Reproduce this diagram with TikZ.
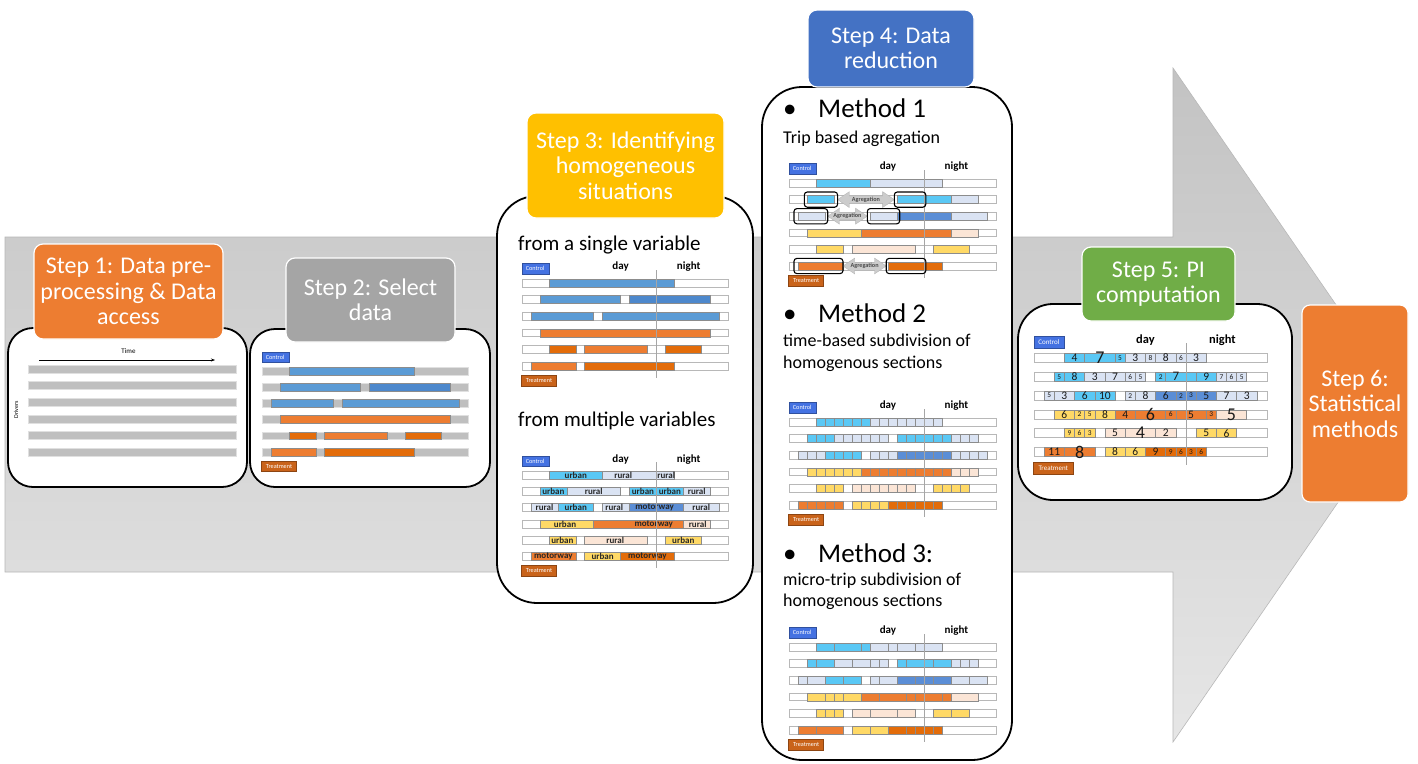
\documentclass[tikz,border=0pt]{standalone}
\usepackage{fontspec}
\setmainfont{Carlito}
\usetikzlibrary{arrows.meta}
\definecolor{arrT}{HTML}{C3C3C3}
\definecolor{arrB}{HTML}{E6E6E6}
\definecolor{tOr}{HTML}{ED7D31}
\definecolor{tGr}{HTML}{A5A5A5}
\definecolor{tYe}{HTML}{FFC000}
\definecolor{tBl}{HTML}{4472C4}
\definecolor{tGn}{HTML}{70AD47}
\definecolor{bb}{HTML}{5B9BD5}
\definecolor{bbd}{HTML}{4D88CC}
\definecolor{cy}{HTML}{5AC8F5}
\definecolor{lb}{HTML}{DAE3F3}
\definecolor{mb}{HTML}{5B8ED6}
\definecolor{ye}{HTML}{FFD966}
\definecolor{orr}{HTML}{ED7D31}
\definecolor{pe}{HTML}{FBE5D6}
\definecolor{dor}{HTML}{E36C0A}
\definecolor{ctrl}{HTML}{4472E2}
\definecolor{treat}{HTML}{C9631A}
\definecolor{barg}{HTML}{BFBFBF}
\newcount\nncnt
\newcommand{\nname}{\global\advance\nncnt by 1\relax}
\tikzset{
 panel/.style={draw=black, line width=1.8pt, fill=white, rounded corners=#1, inner sep=0},
 ttl/.style={draw=white, line width=1.2pt, rounded corners=9pt, text=white, align=center, inner sep=0, font=\fontsize{24}{25.5}\selectfont},
 segb/.style={draw=black!45, line width=0.5pt},
 bgw/.style={draw=black!28, fill=white, line width=0.6pt},
 bgg/.style={draw=black!12, fill=barg, line width=0.6pt},
 chs/.style={},
 ctlbox/.style={chs, fill=ctrl, draw=ctrl!70!black, line width=0.3pt, text=white, minimum width=27pt, minimum height=10.5pt, inner sep=0, font=\fontsize{6.2}{7}\selectfont},
 trtbox/.style={chs, fill=treat, draw=treat!70!black, line width=0.3pt, text=white, minimum width=35pt, minimum height=10.5pt, inner sep=0, font=\fontsize{6.2}{7}\selectfont},
 dn/.style={chs, font=\bfseries\fontsize{11}{12}\selectfont, inner sep=0},
 lbl/.style={font=\bfseries\fontsize{9}{10}\selectfont, inner sep=0, text=black!85},
 num/.style={inner sep=0, text=black!90},
 divl/.style={draw=black!35, line width=0.6pt},
 aggbox/.style={draw=black, line width=1.1pt, rounded corners=3pt},
 aggfill/.style={fill=black!20, draw=black!30, line width=0.3pt},
 agglbl/.style={font=\bfseries\fontsize{6.2}{6.5}\selectfont, text=black!70, inner sep=0},
 mtxt/.style={anchor=base west, inner sep=0, font=\fontsize{27}{30}\selectfont},
 stxt/.style={anchor=base west, inner sep=0, font=\fontsize{18}{22}\selectfont},
}
\newcommand{\seg}[4]{\draw[segb,fill=#4] (#2,#1-0.24) rectangle (#3,#1+0.24);}
\newcommand{\segs}[3]{\foreach \xa/\xb in {#3}{\seg{#1}{\xa}{\xb}{#2}}}
\newcommand{\lseg}[6]{\seg{#1}{#2}{#3}{#4}\nname\node[lbl] (n\the\nncnt) at (#6,#1) {#5};}
\newcommand{\cells}[4]{\seg{#1}{#2}{#3}{#4}\foreach \ci in {#2,...,#3}{\draw[segb] (\ci,#1-0.24) -- (\ci,#1+0.24);}}
\newcommand{\nsegs}[3]{\foreach \xa/\xb/\nv/\sz in {#3}{\seg{#1}{\xa}{\xb}{#2}\nname\node[num,font=\fontsize{\sz}{\sz}\selectfont] (n\the\nncnt) at ({(\xa+\xb)/2},#1) {\nv};}}
\newcommand{\bgrows}[1]{\foreach \r in {0,...,5}{\draw[#1] (0,\r-0.24) rectangle (23,\r+0.24);}}
\newcommand{\ctl}{\nname\node[ctlbox] (n\the\nncnt) at (1.47,-0.86) {Control};\nname\node[trtbox] (n\the\nncnt) at (1.9,5.88) {Treatment};}
\newcommand{\dnl}{\nname\node[dn] (n\the\nncnt) at (11,-0.97) {day};\nname\node[dn] (n\the\nncnt) at (18.6,-0.97) {night};}
\newcommand{\divd}{\draw[divl] (15,-0.78) -- (15,5.7);}
\newcommand{\aggar}[3]{\draw[aggfill] (#2,#1) -- (#2+1.3,#1-0.48) -- (#2+1.3,#1-0.22) -- (#3-1.3,#1-0.22) -- (#3-1.3,#1-0.48) -- (#3,#1) -- (#3-1.3,#1+0.48) -- (#3-1.3,#1+0.22) -- (#2+1.3,#1+0.22) -- (#2+1.3,#1+0.48) -- cycle;
 \nname\node[agglbl] (n\the\nncnt) at ({(#2+#3)/2},#1) {Agregation};}
\newcommand{\aggbx}[3]{\draw[aggbox] (#2,#1-0.46) rectangle (#3,#1+0.46);}
\newcommand{\singlesegs}{%
 \seg{0}{3}{17}{bb}
 \seg{1}{2}{11}{bb}\seg{1}{12}{21}{bbd}
 \seg{2}{1}{8}{bb}\seg{2}{9}{22}{bb}
 \seg{3}{2}{21}{orr}
 \seg{4}{3}{6}{dor}\seg{4}{7}{14}{orr}\seg{4}{16}{20}{dor}
 \seg{5}{1}{6}{orr}\seg{5}{7}{17}{dor}}
\begin{document}
\begin{tikzpicture}[x=1pt,y=-1pt]
\useasboundingbox (0,0) rectangle (1418,763);
\fill[white] (0,0) rectangle (1418,763);
% big arrow
\shadedraw[top color=arrT, bottom color=arrB, draw=black!28, line width=0.6pt] (5,237) -- (1173,237) -- (1173,68) -- (1405,405) -- (1173,742) -- (1173,572) -- (5,572) -- cycle;
% panels
\node[panel=25pt, minimum width=239pt, minimum height=159pt] (p1) at (127.5,407.5) {};
\node[panel=25pt, minimum width=240pt, minimum height=158pt] (p2) at (370,408) {};
\node[panel=40pt, minimum width=256pt, minimum height=407pt] (p3) at (625,399.5) {};
\node[panel=40pt, minimum width=250pt, minimum height=673pt] (p4) at (887,423.5) {};
\node[panel=35pt, minimum width=274pt, minimum height=196pt] (p5) at (1155,402) {};
% titles
\node[ttl, fill=tOr, minimum width=189pt, minimum height=95pt] (t1) at (128.5,291.5) {Step 1: Data pre-\\processing \& Data\\access};
\node[ttl, fill=tGr, minimum width=169pt, minimum height=84pt] (t2) at (370.5,300) {Step 2: Select\\data};
\node[ttl, fill=tYe, minimum width=197pt, minimum height=105pt] (t3) at (625.5,165.5) {Step 3: Identifying\\homogeneous\\situations};
\node[ttl, fill=tBl, minimum width=166pt, minimum height=77pt] (t4) at (891,48.5) {Step 4: Data\\reduction};
\node[ttl, fill=tGn, minimum width=153pt, minimum height=74pt] (t5) at (1158.5,284) {Step 5: PI\\computation};
\node[ttl, fill=tOr, minimum width=106pt, minimum height=197pt, rounded corners=8pt] (t6) at (1355,403.5) {Step 6:\\Statistical\\methods};
% step 1 content
\coordinate (tA) at (39,360); \coordinate (tB) at (215,360);
\draw[-{Stealth[length=4pt,width=3pt]}, line width=0.5pt] (tA) -- (tB);
\node[font=\fontsize{7}{8}\selectfont, inner sep=0] (time) at (128.5,351) {Time};
\node[font=\fontsize{6}{7}\selectfont, inner sep=0, rotate=90] (drv) at (16,410) {Drivers};
\foreach \i in {0,...,5}{\draw[bgg] (28,{369+\i*16.65-4}) rectangle (236,{369+\i*16.65+4});}
% step 2 content
\begin{scope}[shift={(262,371)}, x=8.96pt, y=-16.2pt]
\bgrows{bgg}\singlesegs\ctl
\end{scope}
% step 3 texts
\node[anchor=base west, inner sep=0, font=\fontsize{21}{24}\selectfont] (s3a) at (518,250) {from a single variable};
\node[anchor=base west, inner sep=0, font=\fontsize{21}{24}\selectfont] (s3b) at (518,426) {from multiple variables};
\begin{scope}[shift={(522,283)}, x=8.96pt, y=-16.6pt]
\bgrows{bgw}\singlesegs\ctl\dnl\divd
\end{scope}
\begin{scope}[shift={(522,475)}, x=8.96pt, y=-16.3pt]
\bgrows{bgw}
\lseg{0}{3}{9}{cy}{urban}{6}\lseg{0}{9}{15}{lb}{rural}{11.3}\lseg{0}{15}{17}{lb}{rural}{16.1}
\lseg{1}{2}{5}{cy}{urban}{3.5}\lseg{1}{5}{11}{lb}{rural}{8}\lseg{1}{12}{15}{cy}{urban}{13.5}\lseg{1}{15}{18}{cy}{urban}{16.5}\lseg{1}{18}{21}{lb}{rural}{19.5}
\lseg{2}{1}{4}{lb}{rural}{2.5}\lseg{2}{4}{8}{cy}{urban}{6}\lseg{2}{9}{12}{lb}{rural}{10.3}\lseg{2}{12}{18}{mb}{motorway}{14.8}\lseg{2}{18}{22}{lb}{rural}{20}
\lseg{3}{2}{8}{ye}{urban}{4.8}\lseg{3}{8}{18}{orr}{motorway}{14.7}\lseg{3}{18}{21}{pe}{rural}{19.6}
\lseg{4}{3}{6}{ye}{urban}{4.5}\lseg{4}{7}{14}{pe}{rural}{10.4}\lseg{4}{16}{20}{ye}{urban}{18}
\lseg{5}{1}{6}{orr}{motorway}{3.5}\lseg{5}{7}{11}{ye}{urban}{9}\lseg{5}{11}{17}{dor}{motorway}{14}
\ctl\dnl\divd
\end{scope}
% step 4 texts
\node[mtxt] (b1) at (783,117) {•};\node[mtxt] (m1) at (818,117) {Method 1};
\node[stxt] (m1t) at (783,143) {Trip based agregation};
\node[mtxt] (b2) at (783,322) {•};\node[mtxt] (m2) at (818,322) {Method 2};
\node[stxt] (m2t) at (783,346) {time-based subdivision of};
\node[stxt] (m2u) at (783,368) {homogenous sections};
\node[mtxt] (b3) at (783,562) {•};\node[mtxt] (m3) at (818,562) {Method 3:};
\node[stxt] (m3t) at (783,585) {micro-trip subdivision of};
\node[stxt] (m3u) at (783,606) {homogenous sections};
% method 1
\begin{scope}[shift={(789,183)}, x=9pt, y=-16.6pt]
\bgrows{bgw}
\seg{0}{3}{9}{cy}\seg{0}{9}{17}{lb}
\seg{1}{2}{5}{cy}\seg{1}{12}{18}{cy}\seg{1}{18}{21}{lb}
\seg{2}{1}{4}{lb}\seg{2}{9}{12}{lb}\seg{2}{12}{18}{mb}\seg{2}{18}{22}{lb}
\seg{3}{2}{8}{ye}\seg{3}{8}{18}{orr}\seg{3}{18}{21}{pe}
\seg{4}{3}{6}{ye}\seg{4}{7}{14}{pe}\seg{4}{16}{20}{ye}
\seg{5}{1}{6}{orr}\seg{5}{11}{17}{dor}
\ctl\dnl\divd
\aggar{1}{5.4}{11.7}\aggbx{1}{1.7}{5.4}\aggbx{1}{11.7}{15.2}
\aggar{2}{4.3}{8.7}\aggbx{2}{0.55}{4.3}\aggbx{2}{8.7}{12.3}
\aggar{5}{6}{10.8}\aggbx{5}{0.55}{6}\aggbx{5}{10.8}{15.2}
\end{scope}
% method 2
\begin{scope}[shift={(789,422)}, x=9pt, y=-16.6pt]
\bgrows{bgw}
\cells{0}{3}{9}{cy}\cells{0}{9}{17}{lb}
\cells{1}{2}{5}{cy}\cells{1}{5}{11}{lb}\cells{1}{12}{18}{cy}\cells{1}{18}{21}{lb}
\cells{2}{1}{4}{lb}\cells{2}{4}{8}{cy}\cells{2}{9}{12}{lb}\cells{2}{12}{18}{mb}\cells{2}{18}{22}{lb}
\cells{3}{2}{8}{ye}\cells{3}{8}{18}{orr}\cells{3}{18}{21}{pe}
\cells{4}{3}{6}{ye}\cells{4}{7}{14}{pe}\cells{4}{16}{20}{ye}
\cells{5}{1}{6}{orr}\cells{5}{7}{11}{ye}\cells{5}{11}{17}{dor}
\ctl\dnl\divd
\end{scope}
% method 3
\begin{scope}[shift={(789,647)}, x=9pt, y=-16.6pt]
\bgrows{bgw}
\segs{0}{cy}{3/5,5/8,8/9}\segs{0}{lb}{9/11,11/12,12/14,14/15,15/17}
\segs{1}{cy}{2/3,3/5}\segs{1}{lb}{5/7,7/9,9/10,10/11}\segs{1}{cy}{12/13,13/15,15/16,16/18}\segs{1}{lb}{18/19,19/20,20/21}
\segs{2}{lb}{1/2,2/4}\segs{2}{cy}{4/6,6/8}\segs{2}{lb}{9/10,10/12}\segs{2}{mb}{12/14,14/15,15/16,16/18}\segs{2}{lb}{18/20,20/22}
\segs{3}{ye}{2/4,4/5,5/6,6/8}\segs{3}{orr}{8/10,10/13,13/14,14/17,17/18}\segs{3}{pe}{18/21}
\segs{4}{ye}{3/4,4/5,5/6}\segs{4}{pe}{7/9,9/12,12/14}\segs{4}{ye}{16/18,18/20}
\segs{5}{orr}{1/3,3/6}\segs{5}{ye}{7/9,9/11}\segs{5}{dor}{11/13,13/14,14/15,15/16,16/17}
\ctl\dnl\divd
\end{scope}
% step 5
\begin{scope}[shift={(1034,358)}, x=10.13pt, y=-18.8pt, chs/.style={scale=1.13}]
\bgrows{bgw}
\nsegs{0}{cy}{3/5/4/11.5,5/8/7/18,8/9/5/7.4}\nsegs{0}{lb}{9/11/3/11.5,11/12/8/7.4,12/14/8/11.5,14/15/6/7.4,15/17/3/11.5}
\nsegs{1}{cy}{2/3/5/7.4,3/5/8/11.5}\nsegs{1}{lb}{5/7/3/11.5,7/9/7/11.5,9/10/6/7.4,10/11/5/7.4}\nsegs{1}{cy}{12/13/2/7.4,13/15/7/13}\seg{1}{15}{16}{cy}\nsegs{1}{cy}{16/18/9/11.5}\nsegs{1}{lb}{18/19/7/7.4,19/20/6/7.4,20/21/5/7.4}
\nsegs{2}{lb}{1/2/5/7.4,2/4/3/11.5}\nsegs{2}{cy}{4/6/6/11.5,6/8/10/11.5}\nsegs{2}{lb}{9/10/2/7.4,10/12/8/11.5}\nsegs{2}{mb}{12/14/6/11.5,14/15/2/7.4,15/16/3/7.4,16/18/5/11.5}\nsegs{2}{lb}{18/20/7/11.5,20/22/3/11.5}
\nsegs{3}{ye}{2/4/6/11.5,4/5/2/7.4,5/6/5/7.4,6/8/8/11.5}\nsegs{3}{orr}{8/10/4/11.5,10/13/6/18,13/14/6/7.4,14/17/5/11.5,17/18/3/7.4}\nsegs{3}{pe}{18/21/5/18}
\nsegs{4}{ye}{3/4/9/7.4,4/5/6/7.4,5/6/3/7.4}\nsegs{4}{pe}{7/9/5/11.5,9/12/4/18,12/14/2/11.5}\nsegs{4}{ye}{16/18/5/11.5,18/20/6/11.5}
\nsegs{5}{orr}{1/3/11/11.5,3/6/8/18}\nsegs{5}{ye}{7/9/8/11.5,9/11/6/11.5}\nsegs{5}{dor}{11/13/9/11.5,13/14/9/7.4,14/15/6/7.4,15/16/3/7.4,16/17/6/7.4}
\ctl\dnl\divd
\end{scope}
\end{tikzpicture}
\end{document}
